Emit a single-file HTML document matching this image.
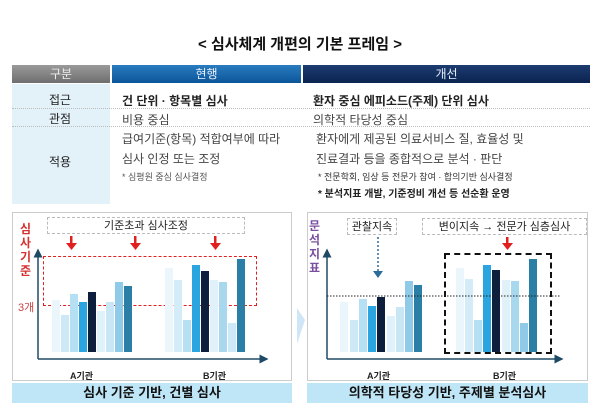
<!DOCTYPE html>
<html><head><meta charset="utf-8"><style>
body{margin:0;width:600px;height:414px;background:#fff;position:relative;overflow:hidden;font-family:"Liberation Sans","Noto Sans CJK KR",sans-serif;color:#222}
.a{position:absolute;white-space:nowrap}
.bar{position:absolute;bottom:0}
</style></head><body>
<div class="a" style="left:0;width:600px;top:33px;text-align:center;font-size:15px;font-weight:bold;color:#111">&lt; 심사체계 개편의 기본 프레임 &gt;</div>
<div class="a" style="left:12px;top:65px;width:98px;height:18px;background:linear-gradient(#9a9a9a,#6e6e6e);color:#eee;font-size:12px;text-align:center;line-height:18px">구분</div>
<div class="a" style="left:112px;top:65px;width:189px;height:18px;background:linear-gradient(#2a7bbf,#0c5599);color:#e8f0ff;font-size:12px;text-align:center;line-height:18px">현행</div>
<div class="a" style="left:303px;top:65px;width:287px;height:18px;background:linear-gradient(#1d3c70,#0b2350);color:#e8f0ff;font-size:12px;text-align:center;line-height:18px">개선</div>
<div class="a" style="left:12px;top:84px;width:98px;height:120px;background:#e3f1f9"></div>
<div class="a" style="left:12px;top:108px;width:578px;border-top:1px dotted #bbb"></div>
<div class="a" style="left:12px;top:126px;width:578px;border-top:1px dotted #bbb"></div>
<div class="a" style="left:30px;top:91px;font-size:12px;width:60px;text-align:center">접근</div>
<div class="a" style="left:30px;top:110px;font-size:12px;width:60px;text-align:center">관점</div>
<div class="a" style="left:30px;top:153px;font-size:12px;width:60px;text-align:center">적용</div>
<div class="a" style="left:122px;top:92px;font-size:12px;font-weight:bold">건 단위 · 항목별 심사</div>
<div class="a" style="left:122px;top:111px;font-size:12px;color:#444">비용 중심</div>
<div class="a" style="left:122px;top:130px;font-size:12px;color:#444">급여기준(항목) 적합여부에 따라</div>
<div class="a" style="left:122px;top:150px;font-size:12px;color:#444">심사 인정 또는 조정</div>
<div class="a" style="left:122px;top:170px;font-size:9px;color:#555">* 심평원 중심 심사결정</div>
<div class="a" style="left:313px;top:92px;font-size:12px;font-weight:bold">환자 중심 에피소드(주제) 단위 심사</div>
<div class="a" style="left:313px;top:111px;font-size:12px;color:#444">의학적 타당성 중심</div>
<div class="a" style="left:316px;top:130px;font-size:12px;color:#444">환자에게 제공된 의료서비스 질, 효율성 및</div>
<div class="a" style="left:316px;top:150px;font-size:12px;color:#444">진료결과 등을 종합적으로 분석 · 판단</div>
<div class="a" style="left:318px;top:170px;font-size:9px;color:#333">* 전문학회, 임상 등 전문가 참여 · 합의기반 심사결정</div>
<div class="a" style="left:318px;top:185px;font-size:10px;font-weight:bold;color:#222">* 분석지표 개발, 기준정비 개선 등 선순환 운영</div>

<!-- left panel -->
<div class="a" style="left:12px;top:212px;width:280px;height:169px;border:1px solid #ccc;box-sizing:border-box"></div>
<div class="a" style="left:47px;top:217px;width:198px;height:17px;border:1px dashed #bbb;box-sizing:border-box;font-size:11px;text-align:center;line-height:16px">기준초과 심사조정</div>
<div class="a" style="left:20px;top:222px;font-size:12px;font-weight:bold;color:#d63030;line-height:14px;width:14px">심<br>사<br>기<br>준</div>
<div class="a" style="left:18px;top:299px;font-size:11px;color:#c44">3개</div>
<div class="a" style="left:43px;top:256px;width:214px;height:50px;border:1.5px dashed #e02020;box-sizing:border-box"></div>
<div class="a" style="left:52px;top:240px;height:352px"></div>
<div id="L" class="a" style="left:0;top:0;width:300px;height:352px">
<div class="bar" style="left:52px;width:8px;height:52px;background:#eaf5fc"></div>
<div class="bar" style="left:61px;width:8px;height:37px;background:#cde9f7"></div>
<div class="bar" style="left:70px;width:8px;height:58px;background:#b5dff3"></div>
<div class="bar" style="left:79px;width:8px;height:50px;background:#2aa5e0"></div>
<div class="bar" style="left:88px;width:8px;height:60px;background:#0d1f3c"></div>
<div class="bar" style="left:97px;width:8px;height:41px;background:#dff1fa"></div>
<div class="bar" style="left:106px;width:8px;height:50px;background:#c9e6f4"></div>
<div class="bar" style="left:115px;width:8px;height:70px;background:#8fcbe8"></div>
<div class="bar" style="left:124px;width:8px;height:66px;background:#2b7fa6"></div>
<div class="bar" style="left:165px;width:8px;height:84px;background:#eaf6fc"></div>
<div class="bar" style="left:174px;width:8px;height:72px;background:#d3ecf8"></div>
<div class="bar" style="left:183px;width:8px;height:32px;background:#b5dff3"></div>
<div class="bar" style="left:192px;width:8px;height:87px;background:#2aa5e0"></div>
<div class="bar" style="left:201px;width:8px;height:81px;background:#0d1f3c"></div>
<div class="bar" style="left:210px;width:8px;height:72px;background:#e0f1fa"></div>
<div class="bar" style="left:219px;width:8px;height:70px;background:#a8d8ee"></div>
<div class="bar" style="left:228px;width:8px;height:29px;background:#cde9f7"></div>
<div class="bar" style="left:237px;width:8px;height:93px;background:#2b7fa6"></div>
</div>
<!-- right panel bars -->
<div class="a" style="left:0;top:0;width:600px;height:352px">
<div class="bar" style="left:340px;width:8px;height:50px;background:#eaf5fc"></div>
<div class="bar" style="left:350px;width:8px;height:32px;background:#cde9f7"></div>
<div class="bar" style="left:359px;width:8px;height:53px;background:#b5dff3"></div>
<div class="bar" style="left:368px;width:8px;height:46px;background:#2aa5e0"></div>
<div class="bar" style="left:377px;width:8px;height:55px;background:#0d1f3c"></div>
<div class="bar" style="left:387px;width:8px;height:36px;background:#dff1fa"></div>
<div class="bar" style="left:396px;width:8px;height:45px;background:#c9e6f4"></div>
<div class="bar" style="left:405px;width:8px;height:71px;background:#8fcbe8"></div>
<div class="bar" style="left:414px;width:8px;height:67px;background:#2b7fa6"></div>
<div class="bar" style="left:456px;width:8px;height:84px;background:#eaf6fc"></div>
<div class="bar" style="left:465px;width:8px;height:73px;background:#d3ecf8"></div>
<div class="bar" style="left:474px;width:8px;height:32px;background:#b5dff3"></div>
<div class="bar" style="left:483px;width:8px;height:87px;background:#2aa5e0"></div>
<div class="bar" style="left:492px;width:8px;height:82px;background:#0d1f3c"></div>
<div class="bar" style="left:502px;width:8px;height:72px;background:#e0f1fa"></div>
<div class="bar" style="left:511px;width:8px;height:71px;background:#a8d8ee"></div>
<div class="bar" style="left:520px;width:8px;height:29px;background:#8fcbe8"></div>
<div class="bar" style="left:529px;width:8px;height:93px;background:#2b7fa6"></div>
</div>
<svg class="a" style="left:0;top:0" width="600" height="414">
<defs><marker id="ar" markerWidth="6" markerHeight="6" refX="5" refY="3" orient="auto"><path d="M0,0L6,3L0,6z" fill="#1f4a66"/></marker></defs>
<line x1="38" y1="359" x2="38" y2="250" stroke="#1f4a66" stroke-width="1.5" marker-end="url(#ar)"/>
<line x1="38" y1="359" x2="267" y2="359" stroke="#1f4a66" stroke-width="1.5" marker-end="url(#ar)"/>
<g fill="#e02020"><rect x="70" y="236" width="2.5" height="8"/><path d="M66,243h11l-5.5,7z"/>
<rect x="134" y="236" width="2.5" height="8"/><path d="M130,243h11l-5.5,7z"/>
<rect x="214" y="236" width="2.5" height="8"/><path d="M210,243h11l-5.5,7z"/>
<rect x="506" y="237" width="2.5" height="7"/><path d="M502,243h11l-5.5,7z"/></g>
<line x1="327" y1="359" x2="327" y2="250" stroke="#1f4a66" stroke-width="1.5" marker-end="url(#ar)"/>
<line x1="327" y1="359" x2="562" y2="359" stroke="#1f4a66" stroke-width="1.5" marker-end="url(#ar)"/>
<line x1="327" y1="296" x2="561" y2="296" stroke="#222" stroke-dasharray="1.5,1.5"/>
<line x1="378" y1="237" x2="378" y2="272" stroke="#2a6c9a" stroke-width="1.5" stroke-dasharray="2,2"/>
<path d="M373,271h10l-5,7z" fill="#2a6c9a"/>
<path d="M297,308l8,12l-8,24z" fill="#cfe6f6"/>
</svg>
<div class="a" style="left:444px;top:253px;width:108px;height:101px;border:2px dashed #111;box-sizing:border-box"></div>
<div class="a" style="left:307px;top:212px;width:281px;height:169px;border:1px solid #ccc;box-sizing:border-box"></div>
<div class="a" style="left:347px;top:218px;width:50px;height:17px;border:1px dashed #bbb;box-sizing:border-box;font-size:11px;text-align:center;line-height:16px">관찰지속</div>
<div class="a" style="left:422px;top:218px;width:165px;height:17px;border:1px dashed #bbb;box-sizing:border-box;font-size:11px;text-align:center;line-height:16px">변이지속 → 전문가 심층심사</div>
<div class="a" style="left:309px;top:219px;font-size:12px;font-weight:bold;color:#7a4fa0;line-height:14px;width:14px">문<br>석<br>지<br>표</div>
<div class="a" style="left:70px;top:369px;font-size:9px;font-weight:bold">A기관</div>
<div class="a" style="left:203px;top:369px;font-size:9px;font-weight:bold">B기관</div>
<div class="a" style="left:367px;top:369px;font-size:9px;font-weight:bold">A기관</div>
<div class="a" style="left:493px;top:369px;font-size:9px;font-weight:bold">B기관</div>
<div class="a" style="left:12px;top:383px;width:280px;height:20px;background:#bfe6f7;font-size:13px;font-weight:bold;text-align:center;line-height:20px;color:#111">심사 기준 기반, 건별 심사</div>
<div class="a" style="left:307px;top:383px;width:281px;height:20px;background:#bfe6f7;font-size:13px;font-weight:bold;text-align:center;line-height:20px;color:#111">의학적 타당성 기반, 주제별 분석심사</div>
</body></html>
